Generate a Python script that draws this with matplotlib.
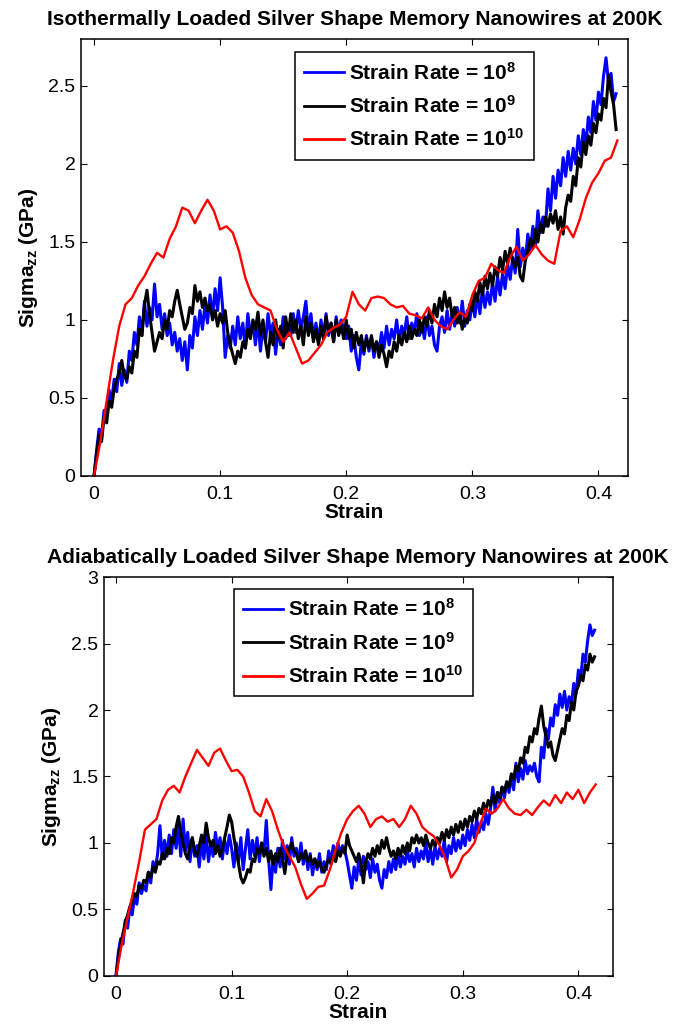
import numpy as np
import matplotlib
matplotlib.use("Agg")
import matplotlib.pyplot as plt

# ---------------- data ----------------
STEP_MD = 0.002     # strain increment of the 10^8 / 10^9 runs
STEP_FAST = 0.005   # strain increment of the 10^10 runs

# Isothermal loading, sigma_zz in GPa
iso_rate8 = [
    0.00, 0.16, 0.30, 0.26, 0.42, 0.38, 0.55, 0.48, 0.62, 0.54,
    0.72, 0.58, 0.68, 0.60, 0.80, 0.74, 0.92, 0.84, 1.02, 0.90,
    1.12, 0.96, 1.08, 1.00, 1.23, 1.02, 1.10, 0.94, 1.04, 0.90,
    0.98, 0.84, 0.92, 0.80, 0.88, 0.74, 0.86, 0.68, 0.90, 0.82,
    1.02, 0.90, 1.06, 0.94, 1.10, 0.98, 1.16, 1.02, 1.20, 1.06,
    1.27, 1.08, 0.76, 0.90, 0.82, 0.96, 0.84, 1.02, 0.88, 0.98,
    0.82, 1.04, 0.90, 0.98, 0.84, 1.00, 0.80, 0.96, 0.86, 1.04,
    0.90, 0.98, 0.78, 0.94, 0.84, 1.02, 0.88, 0.96, 0.90, 1.04,
    0.92, 1.06, 0.94, 1.02, 1.12, 0.92, 1.04, 0.88, 0.98, 0.86,
    1.00, 0.88, 1.04, 0.90, 0.98, 0.86, 1.02, 0.92, 1.00, 0.94,
    0.88, 0.96, 0.80, 0.90, 0.76, 0.68, 0.86, 0.78, 0.90, 0.80,
    0.88, 0.76, 0.86, 0.80, 0.92, 0.82, 0.96, 0.84, 0.94, 0.88,
    1.00, 0.86, 0.96, 0.90, 1.02, 0.88, 0.98, 0.92, 1.04, 0.90,
    0.98, 0.88, 1.02, 0.90, 0.96, 0.84, 0.80, 0.96, 1.02, 0.92,
    1.06, 0.94, 1.04, 0.96, 1.08, 0.98, 1.12, 0.96, 1.06, 1.00,
    1.12, 1.02, 1.16, 1.04, 1.20, 1.08, 1.18, 1.10, 1.24, 1.12,
    1.28, 1.16, 1.30, 1.20, 1.36, 1.26, 1.40, 1.30, 1.58, 1.34,
    1.46, 1.38, 1.55, 1.44, 1.60, 1.48, 1.70, 1.56, 1.66, 1.60,
    1.84, 1.70, 1.92, 1.78, 1.96, 1.86, 2.04, 1.92, 2.08, 1.96,
    2.10, 2.00, 2.18, 2.06, 2.22, 2.12, 2.30, 2.20, 2.40, 2.28,
    2.46, 2.38, 2.56, 2.68, 2.52, 2.58, 2.40, 2.45]
iso_rate9 = [
    0.00, 0.14, 0.26, 0.22, 0.38, 0.34, 0.48, 0.44, 0.56, 0.62,
    0.66, 0.74, 0.64, 0.62, 0.70, 0.66, 0.80, 0.76, 0.94, 0.90,
    1.10, 1.19, 1.04, 0.92, 0.80, 0.86, 0.92, 0.88, 1.00, 0.94,
    1.06, 1.02, 1.12, 1.19, 1.10, 1.02, 0.94, 0.98, 1.08, 1.04,
    1.22, 1.12, 1.18, 1.08, 1.14, 1.06, 1.10, 1.00, 1.06, 0.96,
    1.04, 0.98, 1.06, 0.92, 0.84, 0.78, 0.72, 0.80, 0.76, 0.86,
    0.82, 0.94, 0.88, 1.00, 0.94, 1.05, 0.90, 1.00, 0.86, 0.76,
    0.92, 0.84, 1.00, 0.88, 0.96, 0.82, 1.02, 0.90, 1.04, 0.92,
    1.00, 0.88, 0.96, 0.84, 1.02, 0.90, 0.98, 0.86, 0.94, 0.84,
    0.96, 0.88, 1.02, 0.92, 0.98, 0.86, 1.00, 0.90, 0.96, 0.88,
    1.00, 0.88, 0.94, 0.82, 0.92, 0.84, 0.90, 0.80, 0.88, 0.82,
    0.90, 0.80, 0.86, 0.76, 0.84, 0.78, 0.70, 0.80, 0.76, 0.86,
    0.80, 0.90, 0.84, 0.92, 0.86, 0.96, 0.88, 0.94, 0.90, 1.00,
    0.92, 1.02, 0.96, 1.06, 0.98, 1.10, 1.02, 1.14, 1.06, 1.18,
    1.08, 1.14, 1.02, 1.08, 0.98, 1.04, 0.94, 1.02, 0.98, 1.10,
    1.06, 1.18, 1.12, 1.24, 1.16, 1.28, 1.20, 1.30, 1.22, 1.34,
    1.28, 1.40, 1.32, 1.44, 1.36, 1.46, 1.38, 1.34, 1.40, 1.28,
    1.25, 1.38, 1.44, 1.52, 1.46, 1.58, 1.50, 1.62, 1.56, 1.66,
    1.60, 1.68, 1.62, 1.70, 1.58, 1.66, 1.55, 1.72, 1.80, 1.76,
    1.92, 1.86, 2.04, 1.98, 2.14, 2.06, 2.18, 2.12, 2.26, 2.20,
    2.32, 2.28, 2.42, 2.36, 2.57, 2.46, 2.38, 2.22]
iso_rate10 = [
    0.00, 0.22, 0.48, 0.74, 0.96, 1.10, 1.14, 1.22, 1.28, 1.36,
    1.43, 1.40, 1.52, 1.60, 1.72, 1.70, 1.62, 1.70, 1.77, 1.70,
    1.58, 1.60, 1.56, 1.44, 1.27, 1.16, 1.10, 1.08, 1.06, 0.94,
    0.86, 0.92, 0.82, 0.72, 0.74, 0.79, 0.84, 0.92, 0.95, 0.97,
    1.02, 1.18, 1.10, 1.06, 1.14, 1.15, 1.14, 1.10, 1.08, 1.09,
    1.04, 1.03, 1.01, 1.08, 1.00, 0.96, 0.94, 1.00, 1.05, 1.02,
    1.16, 1.25, 1.27, 1.36, 1.32, 1.30, 1.40, 1.47, 1.38, 1.42,
    1.48, 1.42, 1.38, 1.36, 1.57, 1.60, 1.53, 1.64, 1.78, 1.88,
    1.94, 2.02, 2.04, 2.15]

# Adiabatic loading, sigma_zz in GPa
adi_rate8 = [
    0.00, 0.18, 0.28, 0.24, 0.42, 0.36, 0.52, 0.46, 0.60, 0.54,
    0.70, 0.62, 0.68, 0.64, 0.78, 0.70, 0.86, 0.80, 0.92, 1.13,
    0.88, 1.02, 0.90, 1.06, 0.92, 1.10, 0.96, 1.14, 0.90, 1.18,
    0.94, 1.08, 0.86, 1.04, 0.90, 0.98, 0.82, 1.02, 0.88, 1.06,
    0.86, 1.00, 0.90, 1.08, 0.94, 1.04, 0.88, 1.02, 0.92, 1.06,
    0.96, 0.82, 1.00, 0.86, 1.04, 0.80, 0.96, 1.10, 0.88, 1.02,
    0.90, 1.04, 0.86, 1.00, 0.92, 1.17, 0.88, 0.65, 0.90, 0.78,
    0.96, 0.82, 1.02, 0.88, 0.98, 0.84, 1.04, 0.90, 0.96, 0.86,
    1.00, 0.84, 0.94, 0.80, 0.92, 0.76, 0.88, 0.80, 0.92, 0.78,
    0.86, 0.80, 0.94, 0.86, 0.98, 0.90, 1.00, 0.92, 0.98, 0.94,
    0.86, 0.76, 0.66, 0.82, 0.72, 0.88, 0.76, 0.90, 0.80, 0.86,
    0.74, 0.88, 0.78, 0.84, 0.72, 0.66, 0.80, 0.74, 0.86, 0.78,
    0.88, 0.80, 0.92, 0.82, 0.90, 0.84, 0.94, 0.86, 0.92, 0.82,
    0.96, 0.86, 0.94, 0.88, 1.00, 0.86, 0.96, 0.84, 0.98, 0.88,
    0.96, 0.90, 1.02, 0.86, 0.98, 0.92, 1.04, 0.94, 1.02, 0.96,
    1.06, 0.98, 1.10, 1.02, 1.14, 1.04, 1.18, 1.08, 1.16, 1.10,
    1.22, 1.14, 1.26, 1.42, 1.24, 1.38, 1.30, 1.42, 1.34, 1.46,
    1.38, 1.50, 1.40, 1.60, 1.46, 1.56, 1.48, 1.62, 1.52, 1.58,
    1.54, 1.60, 1.50, 1.46, 1.72, 1.64, 1.86, 1.78, 1.94, 1.88,
    2.04, 1.96, 2.12, 2.02, 2.14, 2.00, 2.10, 2.04, 2.20, 2.12,
    2.30, 2.24, 2.42, 2.36, 2.52, 2.64, 2.56, 2.60]
adi_rate9 = [
    0.00, 0.14, 0.24, 0.32, 0.40, 0.46, 0.52, 0.56, 0.62, 0.60,
    0.68, 0.66, 0.72, 0.70, 0.78, 0.74, 0.82, 0.78, 0.86, 0.84,
    0.92, 0.88, 0.96, 0.92, 1.04, 1.00, 1.12, 1.20, 1.08, 1.00,
    0.92, 0.88, 0.98, 1.04, 0.94, 0.90, 0.98, 1.06, 1.00, 1.15,
    1.04, 0.98, 1.02, 0.92, 0.98, 0.90, 0.96, 1.04, 1.12, 1.21,
    1.16, 1.04, 0.94, 0.84, 0.74, 0.70, 0.74, 0.80, 0.78, 0.88,
    0.86, 0.96, 0.92, 1.00, 0.90, 0.96, 0.86, 0.94, 0.84, 0.92,
    0.86, 0.96, 0.88, 0.77, 0.90, 0.96, 1.00, 0.94, 0.92, 0.86,
    0.92, 0.88, 0.94, 0.86, 0.90, 0.84, 0.88, 0.82, 0.86, 0.80,
    0.78, 0.84, 0.88, 0.84, 0.90, 0.86, 0.94, 0.90, 0.96, 0.92,
    1.06, 0.98, 0.94, 0.90, 0.86, 0.92, 0.84, 0.70, 0.86, 0.92,
    0.88, 0.96, 0.90, 0.98, 0.92, 1.02, 0.96, 1.04, 0.96, 0.90,
    0.94, 0.88, 0.96, 0.90, 0.98, 0.92, 1.00, 0.94, 1.04, 1.00,
    1.06, 1.00, 1.04, 0.98, 1.06, 1.00, 0.96, 1.02, 0.98, 1.04,
    1.00, 1.08, 1.02, 1.10, 1.04, 1.12, 1.06, 1.14, 1.08, 1.16,
    1.10, 1.18, 1.12, 1.20, 1.16, 1.24, 1.18, 1.26, 1.22, 1.30,
    1.24, 1.32, 1.28, 1.36, 1.30, 1.38, 1.34, 1.42, 1.38, 1.46,
    1.42, 1.52, 1.48, 1.58, 1.54, 1.64, 1.60, 1.72, 1.68, 1.80,
    1.76, 1.86, 1.82, 1.94, 2.03, 1.88, 1.80, 1.72, 1.76, 1.66,
    1.62, 1.70, 1.78, 1.86, 1.82, 1.96, 1.92, 2.06, 2.00, 2.14,
    2.18, 2.26, 2.22, 2.34, 2.30, 2.42, 2.36, 2.40]
adi_rate10 = [
    0.00, 0.24, 0.44, 0.64, 0.86, 1.10, 1.14, 1.18, 1.32, 1.40,
    1.43, 1.38, 1.50, 1.60, 1.70, 1.64, 1.58, 1.68, 1.71, 1.62,
    1.54, 1.55, 1.50, 1.38, 1.24, 1.20, 1.33, 1.24, 1.10, 0.98,
    0.90, 0.82, 0.69, 0.58, 0.62, 0.67, 0.68, 0.80, 0.95, 1.08,
    1.18, 1.24, 1.28, 1.22, 1.12, 1.18, 1.20, 1.16, 1.18, 1.12,
    1.18, 1.28, 1.22, 1.12, 1.08, 1.05, 0.98, 0.88, 0.74, 0.80,
    0.90, 0.94, 1.00, 1.14, 1.26, 1.22, 1.26, 1.33, 1.26, 1.22,
    1.21, 1.25, 1.21, 1.27, 1.32, 1.28, 1.36, 1.30, 1.38, 1.33,
    1.40, 1.30, 1.38, 1.44]

series_labels = [r"Strain Rate = 10$^{\mathbf{8}}$",
                 r"Strain Rate = 10$^{\mathbf{9}}$",
                 r"Strain Rate = 10$^{\mathbf{10}}$"]
series_colors = ["#0000ff", "#000000", "#ff0000"]

titles = ["Isothermally Loaded Silver Shape Memory Nanowires at 200K",
          "Adiabatically Loaded Silver Shape Memory Nanowires at 200K"]
x_ticks = [0, 0.1, 0.2, 0.3, 0.4]
x_ticklabels = ["0", "0.1", "0.2", "0.3", "0.4"]
y_ticks_iso = [0, 0.5, 1, 1.5, 2, 2.5]
y_ticks_adi = [0, 0.5, 1, 1.5, 2, 2.5, 3]

# ---------------- style ----------------
plt.rcParams["font.family"] = ["Liberation Sans", "DejaVu Sans"]
plt.rcParams["mathtext.fontset"] = "custom"
plt.rcParams["mathtext.rm"] = "Liberation Sans"
plt.rcParams["mathtext.bf"] = "Liberation Sans:bold"
plt.rcParams["mathtext.it"] = "Liberation Sans:italic"


def strain_axis(values, step):
    return np.arange(len(values)) * step


def tick_label(v):
    return "%g" % v


def draw_panel(ax, curves, title, yticks, ylim, xlim, legend_anchor):
    steps = [STEP_MD, STEP_MD, STEP_FAST]
    widths = [2.2, 2.2, 1.7]
    for vals, st, col, lab, lw in zip(curves, steps, series_colors,
                                      series_labels, widths):
        ax.plot(strain_axis(vals, st), vals, color=col, lw=lw, label=lab)
    ax.set_xlim(*xlim)
    ax.set_ylim(*ylim)
    ax.set_xticks(x_ticks)
    ax.set_xticklabels(x_ticklabels)
    ax.set_yticks(yticks)
    ax.set_yticklabels([tick_label(v) for v in yticks])
    ax.tick_params(direction="in", length=4, width=0.8, top=True, right=True,
                   labelsize=14)
    ax.tick_params(axis="x", pad=7)
    ax.tick_params(axis="y", pad=4)
    for sp in ax.spines.values():
        sp.set_linewidth(1.1)
    ax.set_title(title, fontsize=15.1, fontweight="bold", pad=10)
    ax.set_xlabel("Strain", fontsize=15, fontweight="bold", labelpad=0)
    ax.set_ylabel(r"Sigma$_{\mathbf{zz}}$ (GPa)", fontsize=15,
                  fontweight="bold", labelpad=6)
    leg = ax.legend(loc="upper left", bbox_to_anchor=legend_anchor,
                    borderaxespad=0, frameon=True, fancybox=False,
                    handlelength=1.9, handletextpad=0.25, labelspacing=0.55,
                    borderpad=0.45, prop={"weight": "bold", "size": 15})
    frame = leg.get_frame()
    frame.set_edgecolor("black")
    frame.set_linewidth(1.1)
    frame.set_alpha(1)
    for h in leg.get_lines():
        h.set_linewidth(2.0)


fig = plt.figure(figsize=(6.78, 10.28), dpi=100)
ax_top = fig.add_axes([0.1195, 0.537, 0.8065, 0.425])
ax_bot = fig.add_axes([0.1534, 0.0506, 0.7503, 0.3881])

draw_panel(ax_top, [iso_rate8, iso_rate9, iso_rate10], titles[0],
           y_ticks_iso, (0, 2.8), (-0.0103, 0.4233), (0.391, 0.970))
draw_panel(ax_bot, [adi_rate8, adi_rate9, adi_rate10], titles[1],
           y_ticks_adi, (0, 3.0), (-0.0104, 0.4297), (0.2554, 0.970))

fig.savefig("out.png", dpi=100)
